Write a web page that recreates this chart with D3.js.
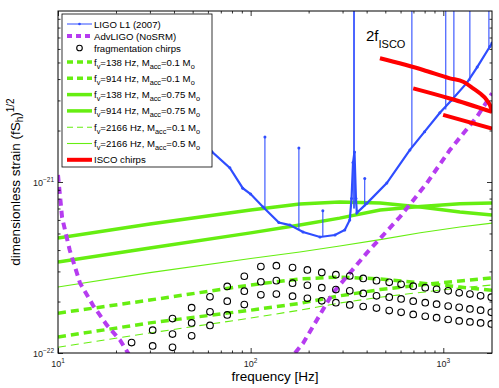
<!DOCTYPE html>
<html>
<head>
<meta charset="utf-8">
<script src="https://cdn.jsdelivr.net/npm/d3@7"></script>
<style>
  body { margin: 0; background: #fff; }
  text { font-family: "Liberation Sans", Arial, Helvetica, sans-serif; }
</style>
</head>
<body>
<div id="chart"></div>
<script>
// LIGO L1 (2007) broadband noise curve
var ligoFreq = [40, 50, 63, 78, 91, 100, 116, 140, 160, 187, 229, 274, 308, 327, 334, 340, 346, 352, 356, 401, 509, 671, 800, 960, 1100, 1325, 1500, 1746, 1790];
var ligoH = [4.0e-21, 2.3e-21, 1.50e-21, 1.21e-21, 9.2e-22, 8.5e-22, 7.15e-22, 5.8e-22, 5.6e-22, 5.1e-22, 4.77e-22, 4.9e-22, 5.24e-22, 6.0e-22, 8.0e-22, 1.3e-21, 1.5e-21, 8.0e-22, 6.6e-22, 7.5e-22, 9.86e-22, 1.54e-21, 1.97e-21, 2.54e-21, 3.0e-21, 3.8e-21, 4.7e-21, 6.2e-21, 6.5e-21];
// lines in the LIGO spectrum
var spikeFreq = [118.6, 178, 237, 343, 345, 391, 687, 1030, 1135, 1374, 1725];
var spikeBase = [7.0e-22, 5.3e-22, 4.8e-22, 7.0e-22, 7.0e-22, 7.2e-22, 1.6e-21, 2.65e-21, 2.95e-21, 3.9e-21, 6.0e-21];
var spikeTop = [1.83e-21, 1.58e-21, 6.8e-22, 2e-20, 2e-20, 1.05e-21, 2e-20, 2e-20, 2e-20, 2e-20, 2e-20];

// AdvLIGO (NoSRM)
var advFreq = [10, 10.5, 11.5, 13.0, 15.2, 17.9, 21.0, 23.1, 25, 160, 170, 187, 267, 401, 595, 822, 1082, 1493, 1745, 1790];
var advH = [1.1e-21, 6.2e-22, 4.0e-22, 2.57e-22, 1.9e-22, 1.46e-22, 1.19e-22, 1.0e-22, 8.5e-23, null, 1.0e-22, 1.14e-22, 2.24e-22, 3.85e-22, 6.24e-22, 9.86e-22, 1.54e-21, 2.4e-21, 3.14e-21, 3.3e-21];

// fragmentation chirps (three sequences sampled at the same frequencies)
var fragFreq = [24.1, 31.0, 39.3, 49.4, 61.5, 75.6, 92.7, 113, 136, 165, 197, 234, 277, 327, 384, 450, 524, 604, 698, 806, 923, 1060, 1209, 1375, 1562, 1775];
var fragA = [1.15e-22, 1.36e-22, 1.59e-22, 1.84e-22, 2.13e-22, 2.45e-22, 2.81e-22, 3.20e-22, 3.24e-22, 3.16e-22, 3.06e-22, 2.96e-22, 2.87e-22, 2.82e-22, 2.73e-22, 2.65e-22, 2.59e-22, 2.52e-22, 2.46e-22, 2.41e-22, 2.36e-22, 2.31e-22, 2.25e-22, 2.21e-22, 2.16e-22, 2.12e-22];
var fragB = [null, 1.10e-22, 1.29e-22, 1.50e-22, 1.74e-22, 2.01e-22, 2.30e-22, 2.61e-22, 2.65e-22, 2.56e-22, 2.49e-22, 2.41e-22, 2.35e-22, 2.31e-22, 2.23e-22, 2.16e-22, 2.12e-22, 2.07e-22, 2.01e-22, 1.97e-22, 1.93e-22, 1.88e-22, 1.85e-22, 1.81e-22, 1.78e-22, 1.73e-22];
var fragC = [null, null, 1.08e-22, 1.26e-22, 1.45e-22, 1.67e-22, 1.92e-22, 2.19e-22, 2.21e-22, 2.15e-22, 2.09e-22, 2.02e-22, 1.97e-22, 1.91e-22, 1.87e-22, 1.83e-22, 1.77e-22, 1.73e-22, 1.68e-22, 1.64e-22, 1.61e-22, 1.57e-22, 1.54e-22, 1.52e-22, 1.50e-22, 1.48e-22];

// accretion-disk chirp models
var diskFreq = [10, 30, 100, 180, 290, 470, 760, 1220, 1790];
var v138acc01 = [1.71e-22, 2.04e-22, 2.50e-22, 2.71e-22, 2.78e-22, 2.71e-22, 2.57e-22, 2.43e-22, 2.33e-22];
var v914acc01 = [1.24e-22, 1.50e-22, 1.78e-22, 1.95e-22, 2.16e-22, 2.35e-22, 2.50e-22, 2.64e-22, 2.75e-22];
var v138acc075 = [4.71e-22, 5.68e-22, 6.85e-22, 7.43e-22, 7.63e-22, 7.53e-22, 7.14e-22, 6.68e-22, 6.41e-22];
var v914acc075 = [3.40e-22, 4.11e-22, 5.04e-22, 5.61e-22, 6.15e-22, 6.85e-22, 7.20e-22, 7.45e-22, 7.53e-22];
var v2166acc01 = [1.08e-22, 1.31e-22, 1.60e-22, 1.78e-22, 1.96e-22, 2.12e-22, 2.26e-22, 2.40e-22, 2.50e-22];
var v2166acc05 = [2.43e-22, 2.95e-22, 3.57e-22, 3.90e-22, 4.22e-22, 4.60e-22, 5.05e-22, 5.45e-22, 5.75e-22];

// ISCO chirps
var isco1Freq = [469, 787, 1082, 1268, 1429, 1549, 1678, 1782, 1790];
var isco1H = [5.29e-21, 4.52e-21, 4.04e-21, 3.86e-21, 3.53e-21, 3.30e-21, 3.02e-21, 2.64e-21, 2.55e-21];
var isco2Freq = [698, 1082, 1790];
var isco2H = [3.53e-21, 3.08e-21, 2.57e-21];
var isco3Freq = [998, 1790];
var isco3H = [2.47e-21, 2.05e-21];

var xMajor = [10, 100, 1000];
var yMajor = [1e-22, 1e-21];

var width = 499, height = 388;
var green = "#66ee11", blue = "#2f4dff", violet = "#b63cf0";

var svg = d3.select("#chart").append("svg")
  .attr("width", width)
  .attr("height", height);

var x = d3.scaleLog().domain([10, 1790]).range([58, 492]);
var y = d3.scaleLog().domain([1e-22, 1e-20]).range([353, 11]);

svg.append("clipPath").attr("id", "plotclip")
  .append("rect")
  .attr("x", 58).attr("y", 11)
  .attr("width", 434).attr("height", 342);

var plot = svg.append("g").attr("clip-path", "url(#plotclip)");

function zipped(fs, hs) {
  return fs.map(function(f, i) { return [f, hs[i]]; });
}

var line = d3.line()
  .defined(function(d) { return d[1] != null; })
  .x(function(d) { return x(d[0]); })
  .y(function(d) { return y(d[1]); });

// green model curves
var models = [
  { h: v2166acc05, w: 1.1, dash: null },
  { h: v2166acc01, w: 1.1, dash: "8,5" },
  { h: v138acc075, w: 3.5, dash: null },
  { h: v914acc075, w: 3.5, dash: null },
  { h: v138acc01, w: 3.5, dash: "8,5" },
  { h: v914acc01, w: 3.5, dash: "8,5" }
];
models.forEach(function(m) {
  plot.append("path")
    .datum(zipped(diskFreq, m.h))
    .attr("d", line)
    .attr("fill", "none")
    .attr("stroke", green)
    .attr("stroke-width", m.w)
    .attr("stroke-dasharray", m.dash);
});

// LIGO curve
plot.append("path")
  .datum(zipped(ligoFreq, ligoH))
  .attr("d", line)
  .attr("fill", "none")
  .attr("stroke", blue)
  .attr("stroke-width", 2.2);

spikeFreq.forEach(function(f, i) {
  plot.append("line")
    .attr("x1", x(f)).attr("x2", x(f))
    .attr("y1", y(spikeBase[i])).attr("y2", y(spikeTop[i]))
    .attr("stroke", blue)
    .attr("stroke-width", 1.1);
});

plot.selectAll(".ligodot")
  .data(zipped(ligoFreq, ligoH).concat(zipped(spikeFreq, spikeTop)))
  .enter().append("circle")
  .attr("cx", function(d) { return x(d[0]); })
  .attr("cy", function(d) { return y(d[1]); })
  .attr("r", 1.5)
  .attr("fill", blue);

// AdvLIGO
plot.append("path")
  .datum(zipped(advFreq, advH))
  .attr("d", line)
  .attr("fill", "none")
  .attr("stroke", violet)
  .attr("stroke-width", 4)
  .attr("stroke-dasharray", "7,5");

// fragmentation chirps
[fragA, fragB, fragC].forEach(function(row) {
  plot.selectAll(null)
    .data(zipped(fragFreq, row).filter(function(d) { return d[1] != null; }))
    .enter().append("circle")
    .attr("cx", function(d) { return x(d[0]); })
    .attr("cy", function(d) { return y(d[1]); })
    .attr("r", 3.3)
    .attr("fill", "none")
    .attr("stroke", "#000")
    .attr("stroke-width", 1.1);
});

// ISCO chirps
[[isco1Freq, isco1H], [isco2Freq, isco2H], [isco3Freq, isco3H]].forEach(function(c) {
  plot.append("path")
    .datum(zipped(c[0], c[1]))
    .attr("d", line.curve(d3.curveMonotoneX))
    .attr("fill", "none")
    .attr("stroke", "#ff0000")
    .attr("stroke-width", 4);
});
line.curve(d3.curveLinear);

var isco = svg.append("text")
  .attr("x", 366).attr("y", 40.5)
  .attr("font-size", 15);
isco.append("tspan").text("2f");
isco.append("tspan").attr("font-size", 11).attr("dy", 7).text("ISCO");

// axes: ticks point inward on all four sides
function minorTicks(dom) {
  var out = [];
  var lo = Math.floor(Math.log10(dom[0])), hi = Math.ceil(Math.log10(dom[1]));
  for (var e = lo; e < hi; e++) {
    for (var k = 2; k <= 9; k++) {
      var v = k * Math.pow(10, e);
      if (v > dom[0] && v < dom[1]) out.push(v);
    }
  }
  return out;
}

function drawAxis(axisFn, scale, major, tr) {
  var gMaj = svg.append("g").attr("transform", tr)
    .call(axisFn(scale).tickValues(major).tickSize(-5).tickFormat(""));
  var gMin = svg.append("g").attr("transform", tr)
    .call(axisFn(scale).tickValues(minorTicks(scale.domain())).tickSize(-2.5).tickFormat(""));
  [gMaj, gMin].forEach(function(g) {
    g.select(".domain").remove();
    g.selectAll("line").attr("stroke", "#000").attr("stroke-width", 0.8);
  });
}

drawAxis(d3.axisBottom, x, xMajor, "translate(0,353)");
drawAxis(d3.axisTop, x, xMajor, "translate(0,11)");
drawAxis(d3.axisLeft, y, yMajor, "translate(58,0)");
drawAxis(d3.axisRight, y, yMajor, "translate(492,0)");

svg.append("rect")
  .attr("x", 58).attr("y", 11)
  .attr("width", 434).attr("height", 342)
  .attr("fill", "none")
  .attr("stroke", "#000")
  .attr("stroke-width", 1);

// tick labels 10^n
xMajor.forEach(function(v) {
  var t = svg.append("text")
    .attr("x", x(v)).attr("y", 366.5)
    .attr("text-anchor", "middle")
    .attr("font-size", 9)
    .attr("fill", "#222");
  t.append("tspan").text("10");
  t.append("tspan").attr("font-size", 6.5).attr("dy", -4).text(Math.round(Math.log10(v)));
});
yMajor.forEach(function(v) {
  var t = svg.append("text")
    .attr("x", 54).attr("y", y(v) + 3.5)
    .attr("text-anchor", "end")
    .attr("font-size", 9)
    .attr("fill", "#222");
  t.append("tspan").text("10");
  t.append("tspan").attr("font-size", 6.5).attr("dy", -4).text("\u2212" + Math.abs(Math.round(Math.log10(v))));
});

svg.append("text")
  .attr("x", 275).attr("y", 381)
  .attr("text-anchor", "middle")
  .attr("font-size", 13.5)
  .text("frequency [Hz]");

var yl = svg.append("text")
  .attr("transform", "translate(20,182) rotate(-90)")
  .attr("text-anchor", "middle")
  .attr("font-size", 13.5);
yl.append("tspan").text("dimensionless strain (fS");
yl.append("tspan").attr("font-size", 10).attr("dy", 3).text("h");
yl.append("tspan").attr("dy", -3).text(")");
yl.append("tspan").attr("font-size", 10).attr("dy", -6).text("1/2");

// legend
var legend = svg.append("g");
legend.append("rect")
  .attr("x", 62).attr("y", 14)
  .attr("width", 150).attr("height", 153)
  .attr("fill", "#fff")
  .attr("stroke", "#000")
  .attr("stroke-width", 0.8);

var entries = [
  { type: "ligo", text: [["LIGO L1 (2007)"]] },
  { type: "line", color: violet, w: 4, dash: "5,4", text: [["AdvLIGO (NoSRM)"]] },
  { type: "circle", text: [["fragmentation chirps"]] },
  { type: "line", color: green, w: 3.5, dash: "6,4", text: [["f"], ["v", 1], ["=138 Hz, M"], ["acc", 1], ["=0.1 M"], ["o", 1]] },
  { type: "line", color: green, w: 3.5, dash: "6,4", text: [["f"], ["v", 1], ["=914 Hz, M"], ["acc", 1], ["=0.1 M"], ["o", 1]] },
  { type: "line", color: green, w: 3.5, dash: null, text: [["f"], ["v", 1], ["=138 Hz, M"], ["acc", 1], ["=0.75 M"], ["o", 1]] },
  { type: "line", color: green, w: 3.5, dash: null, text: [["f"], ["v", 1], ["=914 Hz, M"], ["acc", 1], ["=0.75 M"], ["o", 1]] },
  { type: "line", color: green, w: 1.1, dash: "6,4", text: [["f"], ["v", 1], ["=2166 Hz, M"], ["acc", 1], ["=0.1 M"], ["o", 1]] },
  { type: "line", color: green, w: 1.1, dash: null, text: [["f"], ["v", 1], ["=2166 Hz, M"], ["acc", 1], ["=0.5 M"], ["o", 1]] },
  { type: "line", color: "#ff0000", w: 4, dash: null, text: [["ISCO chirps"]] }
];

entries.forEach(function(e, i) {
  var ly = i < 3 ? 24 + i * 12 : 62 + (i - 3) * 16.3;
  if (e.type == "ligo") {
    legend.append("line").attr("x1", 67).attr("x2", 92).attr("y1", ly).attr("y2", ly)
      .attr("stroke", blue).attr("stroke-width", 1);
    legend.append("circle").attr("cx", 79.5).attr("cy", ly).attr("r", 1.3).attr("fill", blue);
  } else if (e.type == "circle") {
    legend.append("circle").attr("cx", 79.5).attr("cy", ly).attr("r", 2.8)
      .attr("fill", "none").attr("stroke", "#000").attr("stroke-width", 1.1);
  } else {
    legend.append("line").attr("x1", 67).attr("x2", 92).attr("y1", ly).attr("y2", ly)
      .attr("stroke", e.color).attr("stroke-width", e.w)
      .attr("stroke-dasharray", e.dash);
  }
  var t = legend.append("text")
    .attr("x", 94).attr("y", ly + 3.5)
    .attr("font-size", 9.6);
  var low = false;
  e.text.forEach(function(p) {
    var sub = !!p[1];
    var dy = 0;
    if (sub && !low) dy = 3;
    if (!sub && low) dy = -3;
    low = sub;
    t.append("tspan")
      .attr("dy", dy)
      .attr("font-size", sub ? 7.3 : 9.6)
      .text(p[0]);
  });
});
</script>
</body>
</html>
